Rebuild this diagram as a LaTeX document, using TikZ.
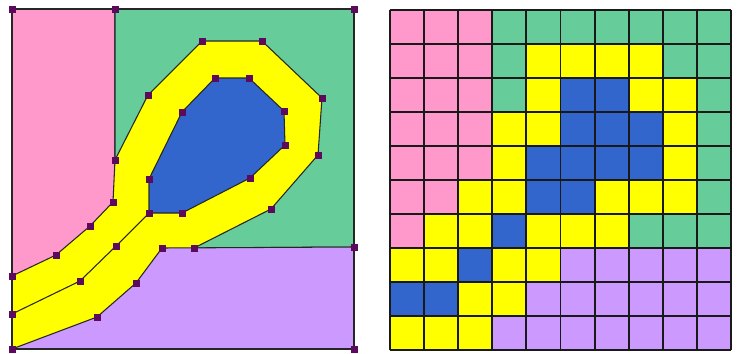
\documentclass[tikz,border=0pt]{standalone}
\usepackage{xcolor}
\usetikzlibrary{calc}

\definecolor{zoneP}{HTML}{FF99CC}
\definecolor{zoneG}{HTML}{66CC99}
\definecolor{zoneY}{HTML}{FFFF00}
\definecolor{zoneB}{HTML}{3366CC}
\definecolor{zoneV}{HTML}{CC99FF}
\definecolor{vertexcol}{HTML}{5C0A5E}

\begin{document}
\begin{tikzpicture}[x=0.3mm,y=-0.3mm,
  edge/.style={line width=0.9pt, draw=black!85},
  vertex/.style={fill=vertexcol},
  cellline/.style={line width=1.6pt, black!90}]
\useasboundingbox (0,0) rectangle (739,353);

\coordinate (TL) at (12,9);
\coordinate (TM) at (115,9);
\coordinate (TR) at (354,9);
\coordinate (RM) at (354,247);
\coordinate (BR) at (354,349);
\coordinate (BL) at (12,349);
\coordinate (Q) at (115,160);

\coordinate (o1) at (148,95);
\coordinate (o2) at (202,41);
\coordinate (o3) at (262,41);
\coordinate (o4) at (322,98);
\coordinate (o5) at (318,155);
\coordinate (o6) at (271,209);
\coordinate (o7) at (194,248);
\coordinate (o8) at (162,248);
\coordinate (o9) at (136,283);
\coordinate (o10) at (97,317);

\coordinate (l1) at (113,202);
\coordinate (l2) at (90,226);
\coordinate (l3) at (56,255);
\coordinate (l4) at (12,276);

\coordinate (m1) at (116,246);
\coordinate (m2) at (80,281);
\coordinate (m3) at (12,314);

\coordinate (b1) at (182,112);
\coordinate (b2) at (215,78);
\coordinate (b3) at (249,78);
\coordinate (b4) at (284,111);
\coordinate (b5) at (285,145);
\coordinate (b6) at (250,178);
\coordinate (b7) at (182,213);
\coordinate (b8) at (149,213);
\coordinate (b9) at (149,179);

\fill[zoneY] (TL) rectangle (BR);
\filldraw[fill=zoneP, edge] (TL) -- (TM) -- (Q) -- (l1) -- (l2) -- (l3) -- (l4) -- cycle;
\filldraw[fill=zoneG, edge] (TM) -- (TR) -- (RM) -- (o7) -- (o6) -- (o5) -- (o4) -- (o3) -- (o2) -- (o1) -- (Q) -- cycle;
\filldraw[fill=zoneV, edge] (o8) -- (RM) -- (BR) -- (BL) -- (o10) -- (o9) -- cycle;
\filldraw[fill=zoneB, edge] (b1) -- (b2) -- (b3) -- (b4) -- (b5) -- (b6) -- (b7) -- (b8) -- (b9) -- cycle;
\draw[edge] (b8) -- (m1) -- (m2) -- (m3);
\draw[edge] (TL) rectangle (BR);

\foreach \v in {TL,TM,TR,RM,BR,BL,Q,o1,o2,o3,o4,o5,o6,o7,o8,o9,o10,l1,l2,l3,l4,m1,m2,m3,b1,b2,b3,b4,b5,b6,b7,b8,b9}
  \fill[vertex] ($(\v)+(-3.5,-3.5)$) rectangle ++(7,7);

\foreach \row [count=\r from 0] in {
  {P,P,P,G,G,G,G,G,G,G},
  {P,P,P,G,Y,Y,Y,Y,G,G},
  {P,P,P,G,Y,B,B,Y,Y,G},
  {P,P,P,Y,Y,B,B,B,Y,G},
  {P,P,P,Y,B,B,B,B,Y,G},
  {P,P,Y,Y,B,B,Y,Y,Y,G},
  {P,Y,Y,B,Y,Y,Y,G,G,G},
  {Y,Y,B,Y,Y,V,V,V,V,V},
  {B,B,Y,Y,V,V,V,V,V,V},
  {Y,Y,Y,V,V,V,V,V,V,V}}
  \foreach \c [count=\k from 0] in \row
    \fill[zone\c] (390+34.1*\k,10+34*\r) rectangle ++(34.1,34);

\foreach \i in {0,...,10} {
  \draw[cellline] (390+34.1*\i,10) -- (390+34.1*\i,350);
  \draw[cellline] (390,10+34*\i) -- (731,10+34*\i);
}
\end{tikzpicture}
\end{document}
